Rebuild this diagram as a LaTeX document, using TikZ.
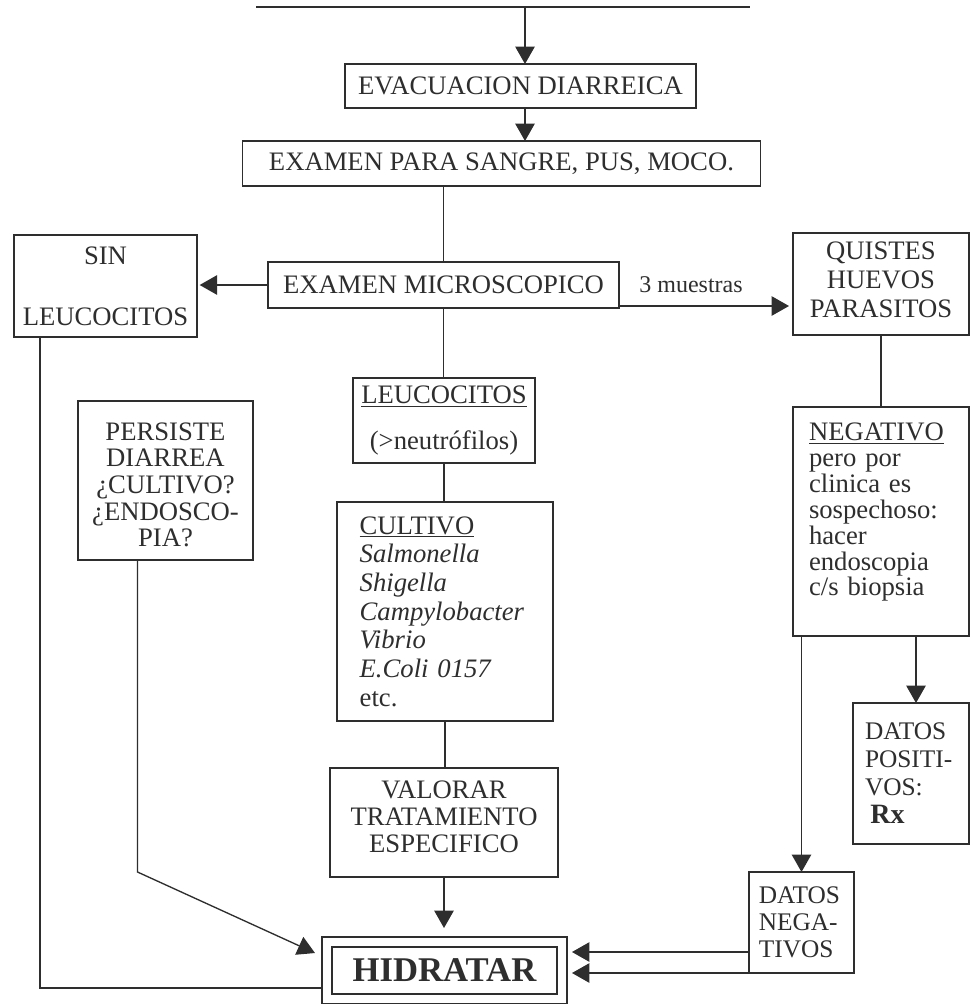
\documentclass[tikz,border=0pt]{standalone}
\usepackage{fontspec}
\setmainfont{Liberation Serif}
\usetikzlibrary{arrows.meta}
\definecolor{ink}{HTML}{2E2E2E}
\begin{document}
\begin{tikzpicture}[x=0.75pt, y=-0.75pt,
  every node/.style={text=ink},
  box/.style={draw=ink, line width=1.1pt, inner sep=0pt, outer sep=0pt,
    align=center, font=\fontsize{20}{21}\selectfont},
  lbox/.style={box, align=left},
  link/.style={draw=ink, line width=1pt},
  arr/.style={link, -{Triangle[width=14.5pt,length=13pt]}},
]
\fill[white] (0,0) rectangle (971,1004);
\useasboundingbox (0,0) rectangle (971,1004);

% heading rule and entry point
\coordinate (ruleL) at (256,7);
\coordinate (ruleR) at (750,7);
\coordinate (head) at (525,7);
\draw[link, line width=1.3pt] (ruleL) -- (ruleR);

% main column
\node[box, minimum width=263.25pt, minimum height=33pt] (evac) at (520.5,86) {EVACUACION DIARREICA};
\node[box, minimum width=388.5pt, minimum height=33.75pt] (sangre) at (501.5,163.5) {EXAMEN PARA SANGRE, PUS, MOCO.};
\node[box, minimum width=263.25pt, minimum height=34.5pt] (micro) at (443.5,285) {EXAMEN MICROSCOPICO};
\node[box, minimum width=136.5pt, minimum height=63.75pt] (leuco) at (444,420.5)
  {\underline{LEUCOCITOS}\\[13pt](>neutrófilos)};
\node[lbox, minimum width=162pt, minimum height=164.25pt, text width=128pt, inner xsep=17pt,
  font=\fontsize{20}{21.5}\selectfont] (cultivo) at (445,611.5)
  {\underline{CULTIVO}\\\textit{Salmonella}\\\textit{Shigella}\\\textit{Campylobacter}\\\textit{Vibrio}\\\textit{E.Coli 0157}\\etc.};
\node[box, minimum width=171pt, minimum height=81.75pt, font=\fontsize{20}{20}\selectfont] (valorar) at (444,822.5)
  {VALORAR\\TRATAMIENTO\\ESPECIFICO\rule[-9pt]{0pt}{9pt}};
\node[box, double=white, double distance=6.5pt, line width=1.1pt,
  minimum width=176.25pt, minimum height=42.75pt, font=\fontsize{26}{28}\selectfont\bfseries] (hid) at (444.5,970.5) {HIDRATAR};

% left side
\node[box, minimum width=137.25pt, minimum height=76.5pt] (sinleu) at (105.5,286) {SIN\\[25pt]LEUCOCITOS};
\node[box, minimum width=131.25pt, minimum height=119.25pt, font=\fontsize{20}{20}\selectfont] (persiste) at (165.5,480.5)
  {\rule{0pt}{20pt}PERSISTE\\DIARREA\\¿CULTIVO?\\¿ENDOSCO-\\PIA?};

% right side
\node[box, minimum width=132pt, minimum height=76.5pt, font=\fontsize{20}{21.75}\selectfont] (quistes) at (881,284)
  {QUISTES\\HUEVOS\\PARASITOS\rule[-6pt]{0pt}{6pt}};
\node[lbox, minimum width=132pt, minimum height=171.75pt, text width=108pt, inner xsep=12pt,
  font=\fontsize{20}{19.4}\selectfont] (neg) at (881,521.5)
  {\underline{NEGATIVO}\\pero por\\clinica es\\sospechoso:\\hacer\\endoscopia\\c/s biopsia\rule[-18pt]{0pt}{18pt}};
\node[lbox, minimum width=87pt, minimum height=105.75pt, text width=69pt, inner xsep=9pt,
  font=\fontsize{19}{21}\selectfont] (datpos) at (911,773.5)
  {DATOS\\POSITI-\\VOS:\\\hspace*{4pt}{\fontsize{21}{21}\selectfont\bfseries Rx}};
\node[lbox, minimum width=78.75pt, minimum height=75.75pt, text width=64pt, inner xsep=7.375pt,
  font=\fontsize{19}{20.25}\selectfont] (datneg) at (801.5,922.5)
  {DATOS\\NEGA-\\TIVOS};

% connectors of the main column
\draw[arr] (head) -- (head |- evac.north);
\draw[arr] (head |- evac.south) -- (head |- sangre.north);
\draw[link] (micro.north |- sangre.south) -- (micro.north);
\draw[link] (micro.south) -- (micro.south |- leuco.north);
\draw[link] (leuco.south) -- (leuco.south |- cultivo.north);
\draw[link] (cultivo.south) -- (cultivo.south |- valorar.north);
\draw[arr, shorten >=10.5pt] (valorar.south) -- (valorar.south |- hid.north);

% branches from the microscopic examination
\draw[arr, shorten >=2pt] (micro.west) -- (micro.west -| sinleu.east);
\draw[arr, shorten >=3pt] ([yshift=1.5pt]micro.south east) -- ([yshift=1.5pt]micro.south east -| quistes.west);
\node[font=\fontsize{18}{20}\selectfont] (muestras) at (691,285) {3 muestras};

% left returns to rehydration
\draw[link, shorten >=3.75pt] ([xshift=19.5pt]sinleu.south west) |- ([yshift=-13.125pt]hid.west);
\draw[arr, shorten >=9.9pt] ([xshift=-21pt]persiste.south) -- ++(0,312) -- ([yshift=9pt]hid.west);

% right branch
\draw[link] (quistes.south) -- (quistes.south |- neg.north);
\draw[arr] ([xshift=3.75pt]datpos.north |- neg.south) -- ([xshift=3.75pt]datpos.north);
\draw[arr] (datneg.north |- neg.south) -- (datneg.north);
\draw[arr, shorten >=7.5pt] ([yshift=-22.125pt]datneg.west) -- ([yshift=-22.125pt]datneg.west -| hid.east);
\draw[arr, shorten >=7.5pt] (datneg.south west) -- (datneg.south west -| hid.east);
\end{tikzpicture}
\end{document}
